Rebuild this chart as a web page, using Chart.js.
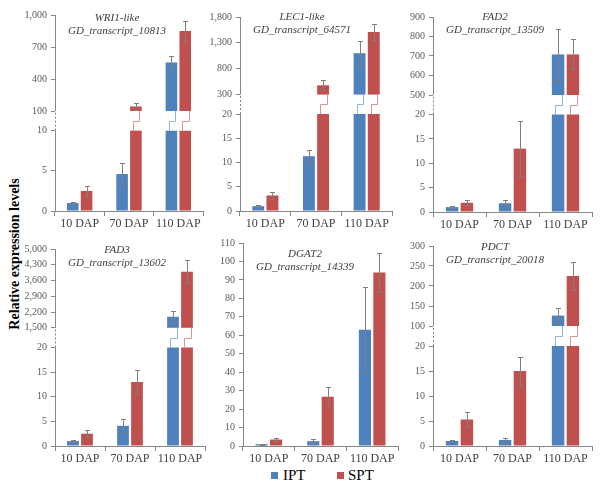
<!DOCTYPE html>
<html>
<head>
<meta charset="utf-8">
<script src="https://cdn.jsdelivr.net/npm/chart.js@4.4.1/dist/chart.umd.min.js"></script>
<style>
  body { margin: 0; background: #fff; }
  #wrap { position: relative; width: 600px; height: 490px; overflow: hidden; font-family: 'Liberation Serif', serif; }
  canvas { position: absolute; }
  #ytitle { position: absolute; left: 15px; top: 254px; transform: translate(-50%, -50%) rotate(-90deg);
            font-weight: bold; font-size: 14px; white-space: nowrap; color: #000; }
  .sw { position: absolute; width: 7px; height: 7px; }
  .lt { position: absolute; font-size: 15px; color: #000; line-height: 15px; }
</style>
</head>
<body>
<div id="wrap">
  <div id="ytitle">Relative expression levels</div>
  <div class="sw" style="left:271px;top:472px;background:#4F81BD"></div>
  <div class="lt" style="left:283px;top:468px">IPT</div>
  <div class="sw" style="left:337px;top:472px;background:#C0504D"></div>
  <div class="lt" style="left:348px;top:468px">SPT</div>
</div>
<script>
const categories = ['10 DAP', '70 DAP', '110 DAP'];
const seriesNames = ['IPT', 'SPT'];
const barColors = ['#4F81BD', '#C0504D'];
const linkColors = ['#95B3D7', '#DA9694'];

// values
const wri1Ticks = [0, 5, 10, 100, 400, 700, 1000];
const wri1IPT = [1.0, 4.6, 555];
const wri1IPTErr = [0.15, 1.4, 65];
const wri1SPT = [2.5, 143, 850];
const wri1SPTErr = [0.6, 30, 95];

const lec1Ticks = [0, 5, 10, 15, 20, 300, 800, 1300, 1800];
const lec1IPT = [1.0, 11.3, 1100];
const lec1IPTErr = [0.2, 1.3, 230];
const lec1SPT = [3.2, 480, 1510];
const lec1SPTErr = [0.7, 100, 160];

const fad2Ticks = [0, 5, 10, 15, 20, 500, 600, 700, 800, 900];
const fad2IPT = [1.0, 1.8, 708];
const fad2IPTErr = [0.25, 0.6, 130];
const fad2SPT = [1.9, 13.0, 708];
const fad2SPTErr = [0.5, 5.6, 77];

const fad3Ticks = [0, 5, 10, 15, 20, 1500, 2200, 2900, 3600, 4300, 5000];
const fad3IPT = [1.0, 4.1, 1990];
const fad3IPTErr = [0.2, 1.3, 270];
const fad3SPT = [2.5, 13.0, 3990];
const fad3SPTErr = [0.7, 2.4, 520];

const dgat2Ticks = [0, 10, 20, 30, 40, 50, 60, 70, 80, 90, 100, 110];
const dgat2IPT = [1.0, 2.6, 63];
const dgat2IPTErr = [0.3, 1.2, 23];
const dgat2SPT = [3.5, 26.7, 94];
const dgat2SPTErr = [0.9, 5, 10.5];

const pdctTicks = [0, 5, 10, 15, 20, 100, 150, 200, 250, 300];
const pdctIPT = [1.0, 1.2, 126];
const pdctIPTErr = [0.2, 0.5, 19];
const pdctSPT = [5.3, 15.0, 225];
const pdctSPTErr = [1.5, 2.9, 34];

// brk = index of last tick below the axis break, split = % of height for low part / gap / high part
const panels = [
  { gene: 'WRI1-like', tr: 'GD_transcript_10813', ticks: wri1Ticks, vals: [wri1IPT, wri1SPT], errs: [wri1IPTErr, wri1SPTErr],
    brk: 2, split: [41, 10, 49], area: [55, 203, 12, 211], ty: 3.5 },
  { gene: 'LEC1-like', tr: 'GD_transcript_64571', ticks: lec1Ticks, vals: [lec1IPT, lec1SPT], errs: [lec1IPTErr, lec1SPTErr],
    brk: 4, split: [50, 10, 40], area: [240, 392, 14, 211], ty: 0 },
  { gene: 'FAD2', tr: 'GD_transcript_13509', ticks: fad2Ticks, vals: [fad2IPT, fad2SPT], errs: [fad2IPTErr, fad2SPTErr],
    brk: 4, split: [50, 10, 40], area: [433, 592, 14, 212], ty: 0 },
  { gene: 'FAD3', tr: 'GD_transcript_13602', ticks: fad3Ticks, vals: [fad3IPT, fad3SPT], errs: [fad3IPTErr, fad3SPTErr],
    brk: 4, split: [50, 10, 40], area: [55, 205, 246, 446], ty: 1.5 },
  { gene: 'DGAT2', tr: 'GD_transcript_14339', ticks: dgat2Ticks, vals: [dgat2IPT, dgat2SPT], errs: [dgat2IPTErr, dgat2SPTErr],
    brk: -1, split: [100, 0, 0], area: [243, 398, 240, 446], ty: 11 },
  { gene: 'PDCT', tr: 'GD_transcript_20018', ticks: pdctTicks, vals: [pdctIPT, pdctSPT], errs: [pdctIPTErr, pdctSPTErr],
    brk: 4, split: [50, 10, 40], area: [433, 592, 243, 446], ty: 1 }
];

const FONT = "'Liberation Serif', serif";
const AXIS = '#868686';
const Y_W = 45, X_H = 24, PAD_T = 7, PAD_R = 3;

function buildPanel(p) {
  const t = p.ticks;
  const top = t[t.length - 1];
  const lo = p.brk < 0 ? top : t[p.brk];
  const hi = p.brk < 0 ? top : t[p.brk + 1];
  const [L, G, U] = p.split;
  const disp = v => p.brk < 0 ? v / top * 100 :
    (v <= lo ? v / lo * L : L + G + (v - hi) / (top - hi) * U);

  const datasets = [];
  p.vals.forEach((vals, k) => {
    datasets.push({
      label: seriesNames[k], stack: seriesNames[k], backgroundColor: barColors[k],
      data: vals.map(v => [0, disp(Math.min(v, lo))])
    });
    datasets.push({
      label: seriesNames[k] + ' hi', stack: seriesNames[k], backgroundColor: barColors[k],
      data: vals.map(v => v > lo ? [disp(hi), disp(v)] : null)
    });
  });

  const cv = document.createElement('canvas');
  const cl = p.area[0] - Y_W, ct = p.area[2] - PAD_T;
  const cw = p.area[1] + PAD_R - cl, ch = p.area[3] - ct + X_H;
  cv.width = cw; cv.height = ch;
  cv.style.left = cl + 'px'; cv.style.top = ct + 'px';
  document.getElementById('wrap').appendChild(cv);

  const extras = {
    id: 'extras',
    afterDatasetsDraw(chart) {
      const ctx = chart.ctx, ys = chart.scales.y, a = chart.chartArea;
      ctx.save();
      // broken bar connectors
      p.vals.forEach((vals, k) => {
        const lowMeta = chart.getDatasetMeta(k * 2);
        vals.forEach((v, i) => {
          if (v <= lo) return;
          const b = lowMeta.data[i];
          const left = b.x - b.width / 2;
          const y1 = ys.getPixelForValue(disp(lo)), y2 = ys.getPixelForValue(L + G);
          const ym = Math.round((y1 + y2) / 2) + 0.5;
          const xu = Math.round(left + b.width * 0.8) + 0.5, xl = Math.round(left + b.width * 0.25) + 0.5;
          ctx.strokeStyle = linkColors[k]; ctx.lineWidth = 1;
          ctx.beginPath();
          ctx.moveTo(xu, y2); ctx.lineTo(xu, ym); ctx.lineTo(xl, ym); ctx.lineTo(xl, y1);
          ctx.stroke();
        });
      });
      // error bars
      ctx.strokeStyle = '#7F7F7F'; ctx.lineWidth = 1;
      p.vals.forEach((vals, k) => {
        const meta = chart.getDatasetMeta(k * 2);
        vals.forEach((v, i) => {
          const x = Math.round(meta.data[i].x) + 0.5;
          const e = p.errs[k][i];
          const yt = Math.round(ys.getPixelForValue(disp(v + e))) + 0.5;
          const yb = Math.round(ys.getPixelForValue(disp(Math.max(v - e, 0)))) + 0.5;
          ctx.beginPath();
          ctx.moveTo(x, yt); ctx.lineTo(x, yb);
          ctx.moveTo(x - 2.5, yt); ctx.lineTo(x + 2.5, yt);
          ctx.moveTo(x - 2.5, yb); ctx.lineTo(x + 2.5, yb);
          ctx.stroke();
        });
      });
      // y axis line with dotted break
      const ax = Math.round(a.left) + 0.5;
      ctx.strokeStyle = AXIS;
      if (p.brk < 0) {
        ctx.beginPath(); ctx.moveTo(ax, a.top); ctx.lineTo(ax, a.bottom); ctx.stroke();
      } else {
        const y1 = ys.getPixelForValue(L), y2 = ys.getPixelForValue(L + G);
        ctx.beginPath(); ctx.moveTo(ax, a.bottom); ctx.lineTo(ax, y1);
        ctx.moveTo(ax, y2); ctx.lineTo(ax, a.top); ctx.stroke();
        ctx.setLineDash([2, 2]);
        ctx.beginPath(); ctx.moveTo(ax, y1); ctx.lineTo(ax, y2); ctx.stroke();
        ctx.setLineDash([]);
      }
      // panel title
      ctx.fillStyle = '#404040';
      ctx.font = 'italic 11px ' + FONT;
      ctx.textAlign = 'center'; ctx.textBaseline = 'middle';
      ctx.fillText(p.gene, a.left + 62, a.top + p.ty);
      ctx.fillText(p.tr, a.left + 62, a.top + p.ty + 13);
      ctx.restore();
    }
  };

  new Chart(cv, {
    type: 'bar',
    data: { labels: categories, datasets: datasets },
    options: {
      responsive: false,
      animation: false,
      devicePixelRatio: 1,
      layout: { padding: { top: PAD_T, right: PAD_R, left: 0, bottom: 0 } },
      datasets: { bar: { barPercentage: 0.84, categoryPercentage: 0.56, borderWidth: 0 } },
      plugins: { legend: { display: false }, tooltip: { enabled: false } },
      scales: {
        x: {
          stacked: true,
          offset: true,
          grid: { offset: true, drawOnChartArea: false, tickLength: 5, color: AXIS },
          border: { color: AXIS },
          ticks: { font: { family: FONT, size: 12 }, color: '#404040', padding: 1, maxRotation: 0 },
          afterFit: sc => { sc.height = X_H; }
        },
        y: {
          stacked: false,
          min: 0, max: 100,
          afterBuildTicks: sc => { sc.ticks = t.map(v => ({ value: disp(v) })); },
          grid: { drawOnChartArea: false, tickLength: 4, color: AXIS },
          border: { display: false },
          ticks: {
            autoSkip: false,
            font: { family: FONT, size: 10 }, color: '#595959', padding: 4,
            callback: (val, idx) => t[idx].toLocaleString('en-US')
          },
          afterFit: sc => { sc.width = Y_W; }
        }
      }
    },
    plugins: [extras]
  });
}

panels.forEach(buildPanel);
</script>
</body>
</html>
